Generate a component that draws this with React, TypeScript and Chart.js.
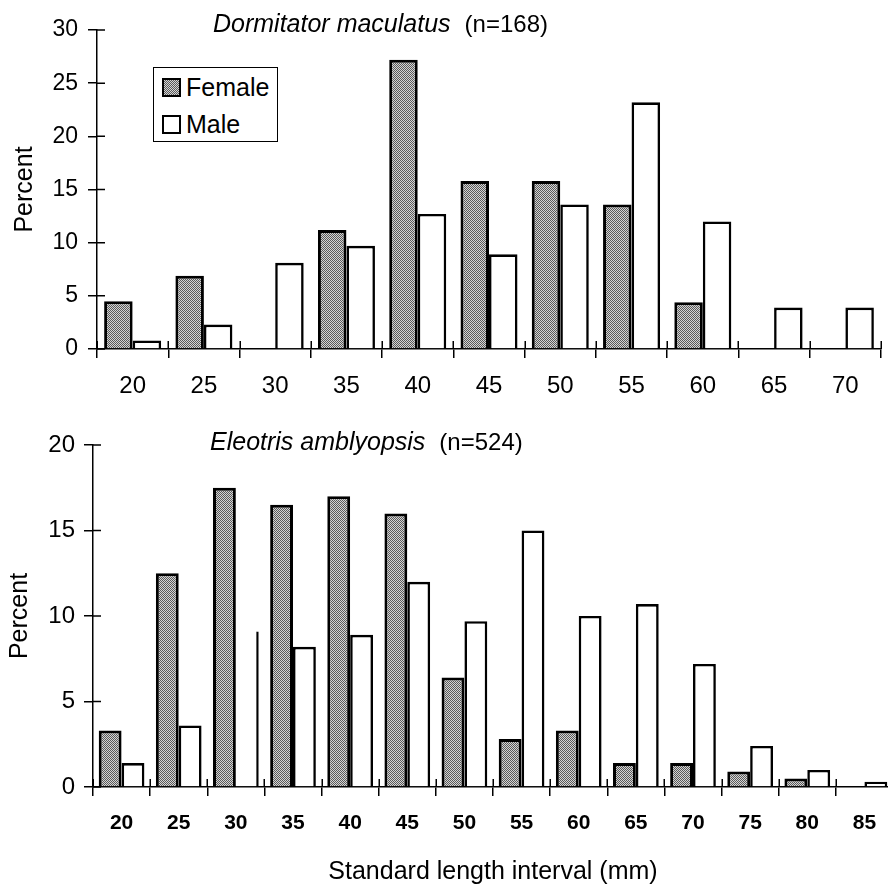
import React, { useEffect, useRef } from 'react';
import { Chart, registerables } from 'chart.js';

Chart.register(...registerables);

// ---------- data ----------
const topIntervals = ['20', '25', '30', '35', '40', '45', '50', '55', '60', '65', '70'];
const topFemale = [4.5, 6.9, 0, 11.2, 27.2, 15.8, 15.8, 13.6, 4.4, 0, 0];
const topMale = [0.8, 2.3, 8.1, 9.7, 12.7, 8.9, 13.6, 23.2, 12.0, 3.9, 3.9];

const bottomIntervals = ['20', '25', '30', '35', '40', '45', '50', '55', '60', '65', '70', '75', '80', '85'];
const bottomFemale = [3.3, 12.5, 17.5, 16.5, 17.0, 16.0, 6.4, 2.8, 3.3, 1.4, 1.4, 0.9, 0.5, 0];
const bottomMale = [1.4, 3.6, 9.1, 8.2, 8.9, 12.0, 9.7, 15.0, 10.0, 10.7, 7.2, 2.4, 1.0, 0.3];

const topYMax = 30;
const bottomYMax = 20;
const yStep = 5;

const seriesNames = ['Female', 'Male'];
const topTitleSpecies = 'Dormitator maculatus';
const topTitleN = '(n=168)';
const bottomTitleSpecies = 'Eleotris amblyopsis';
const bottomTitleN = '(n=524)';
const yAxisLabel = 'Percent';
const xAxisLabel = 'Standard length interval (mm)';

const FONT = '"Liberation Sans", Arial, Helvetica, sans-serif';
const DARK = '#5a5a5a';
const LIGHT = '#d4d4d4';

function makePattern(): CanvasPattern | string {
  const c = document.createElement('canvas');
  c.width = 2;
  c.height = 2;
  const g = c.getContext('2d');
  if (!g) return '#999';
  g.fillStyle = LIGHT;
  g.fillRect(0, 0, 2, 2);
  g.fillStyle = DARK;
  g.fillRect(0, 0, 1, 1);
  g.fillRect(1, 1, 1, 1);
  return g.createPattern(c, 'repeat') || '#999';
}

// Draws the inner half of the crossing tick marks (ticks cross the axes in the original)
const crossTicks = {
  id: 'crossTicks',
  afterDraw(chart: any) {
    const { ctx } = chart;
    const xs = chart.scales.x;
    const ys = chart.scales.y;
    ctx.save();
    ctx.strokeStyle = '#000';
    ctx.lineWidth = 1.5;
    ctx.beginPath();
    const n = chart.data.labels.length;
    const cw = (xs.right - xs.left) / n;
    for (let i = 0; i <= n; i++) {
      const x = Math.round(xs.left + i * cw) + 0.25;
      ctx.moveTo(x, xs.top);
      ctx.lineTo(x, xs.top - 8);
    }
    ys.ticks.forEach((t: any) => {
      const y = ys.getPixelForValue(t.value);
      ctx.moveTo(ys.right, y);
      ctx.lineTo(ys.right + 8, y);
    });
    ctx.stroke();
    ctx.restore();
  },
};

type PanelProps = {
  labels: string[];
  female: number[];
  male: number[];
  yMax: number;
  width: number;
  height: number;
  left: number;
  top: number;
  padTop: number;
  padRight: number;
  yAxisWidth: number;
  xAxisHeight: number;
  yTickSize: number;
  xTickSize: number;
  xTickWeight: string;
  yTickPad: number;
  xTickPad: number;
  yTitlePad: number;
  xTitle?: string;
  edgeOnlyMaleIndex?: number;
};

function BarPanel(p: PanelProps) {
  const ref = useRef<HTMLCanvasElement | null>(null);
  useEffect(() => {
    if (!ref.current) return;
    const pattern = makePattern();
    const chart = new Chart(ref.current, {
      type: 'bar',
      data: {
        labels: p.labels,
        datasets: [
          {
            label: seriesNames[0],
            data: p.female,
            backgroundColor: pattern as any,
            borderColor: '#000',
            borderWidth: 3,
            barPercentage: 1.0,
            categoryPercentage: 0.8,
          },
          {
            label: seriesNames[1],
            data: p.male,
            backgroundColor: '#fff',
            borderColor: '#000',
            borderWidth: ((ctx: any) =>
              ctx.dataIndex === p.edgeOnlyMaleIndex
                ? { top: 0, left: 0, bottom: 0, right: 2.5 }
                : 2.6) as any,
            barPercentage: 1.0,
            categoryPercentage: 0.8,
          },
        ],
      },
      options: {
        responsive: false,
        animation: false,
        events: [],
        layout: { padding: { top: p.padTop, right: p.padRight, left: 0, bottom: 0 } },
        plugins: {
          legend: { display: false },
          tooltip: { enabled: false },
          title: { display: false },
        },
        scales: {
          x: {
            grid: {
              offset: true,
              drawOnChartArea: false,
              tickLength: 9,
              color: '#000',
              lineWidth: 1.5,
            },
            border: { color: '#000', width: 1.5 },
            ticks: {
              color: '#000',
              font: { family: FONT, size: p.xTickSize, weight: p.xTickWeight as any },
              padding: p.xTickPad,
              maxRotation: 0,
              autoSkip: false,
            },
            title: p.xTitle
              ? {
                  display: true,
                  text: p.xTitle,
                  color: '#000',
                  font: { family: FONT, size: 25 },
                  padding: { top: 0, bottom: 0 },
                }
              : { display: false },
            afterFit: (axis: any) => {
              axis.height = p.xAxisHeight;
            },
          },
          y: {
            min: 0,
            max: p.yMax,
            grid: {
              drawOnChartArea: false,
              tickLength: 9,
              color: '#000',
              lineWidth: 1.5,
            },
            border: { color: '#000', width: 1.5 },
            ticks: {
              stepSize: yStep,
              color: '#000',
              font: { family: FONT, size: p.yTickSize },
              padding: p.yTickPad,
            },
            title: {
              display: true,
              text: yAxisLabel,
              color: '#000',
              font: { family: FONT, size: 25 },
              padding: { top: p.yTitlePad, bottom: 0 },
            },
            afterFit: (axis: any) => {
              axis.width = p.yAxisWidth;
            },
          },
        },
      },
      plugins: [crossTicks],
    });
    return () => chart.destroy();
  }, []);
  return (
    <canvas
      ref={ref}
      width={p.width}
      height={p.height}
      style={{ position: 'absolute', left: p.left, top: p.top, width: p.width, height: p.height }}
    />
  );
}

const swatchPattern = `repeating-conic-gradient(${DARK} 0% 25%, ${LIGHT} 0% 50%) 0 0 / 2px 2px`;

function Title({ species, n, left, centerY }: { species: string; n: string; left: number; centerY: number }) {
  return (
    <div
      style={{
        position: 'absolute',
        left,
        top: centerY - 15,
        height: 30,
        lineHeight: '30px',
        whiteSpace: 'nowrap',
        fontFamily: FONT,
        color: '#000',
      }}
    >
      <span style={{ fontStyle: 'italic', fontSize: 25 }}>{species}</span>
      <span style={{ fontSize: 24, marginLeft: 14 }}>{n}</span>
    </div>
  );
}

function Legend() {
  const row = (label: string, bg: string, top: number) => (
    <div style={{ position: 'absolute', left: 8, top, height: 30, display: 'flex', alignItems: 'center' }}>
      <div
        style={{
          width: 15,
          height: 15,
          border: '2px solid #000',
          background: bg,
          marginRight: 5,
        }}
      />
      <span style={{ fontFamily: FONT, fontSize: 25, lineHeight: '30px', color: '#000' }}>{label}</span>
    </div>
  );
  return (
    <div
      style={{
        position: 'absolute',
        left: 153,
        top: 67,
        width: 123,
        height: 73,
        border: '1px solid #000',
        background: '#fff',
      }}
    >
      {row(seriesNames[0], swatchPattern, 4)}
      {row(seriesNames[1], '#fff', 41)}
    </div>
  );
}

export default function App() {
  return (
    <div
      style={{
        position: 'absolute',
        left: 0,
        top: 0,
        width: 888,
        height: 887,
        overflow: 'hidden',
        background: '#fff',
      }}
    >
      <BarPanel
        labels={topIntervals}
        female={topFemale}
        male={topMale}
        yMax={topYMax}
        width={888}
        height={400}
        left={0}
        top={0}
        padTop={30}
        padRight={7}
        yAxisWidth={97}
        xAxisHeight={51}
        yTickSize={23}
        xTickSize={24}
        xTickWeight="normal"
        yTickPad={10}
        xTickPad={14}
        yTitlePad={10}
      />
      <BarPanel
        labels={bottomIntervals}
        female={bottomFemale}
        male={bottomMale}
        yMax={bottomYMax}
        width={900}
        height={487}
        left={0}
        top={400}
        padTop={45}
        padRight={7}
        yAxisWidth={93}
        xAxisHeight={100}
        yTickSize={24}
        xTickSize={21}
        xTickWeight="bold"
        yTickPad={9}
        xTickPad={15}
        yTitlePad={5}
        xTitle={xAxisLabel}
        edgeOnlyMaleIndex={2}
      />
      <Title species={topTitleSpecies} n={topTitleN} left={213} centerY={23} />
      <Title species={bottomTitleSpecies} n={bottomTitleN} left={210} centerY={441} />
      <Legend />
    </div>
  );
}
